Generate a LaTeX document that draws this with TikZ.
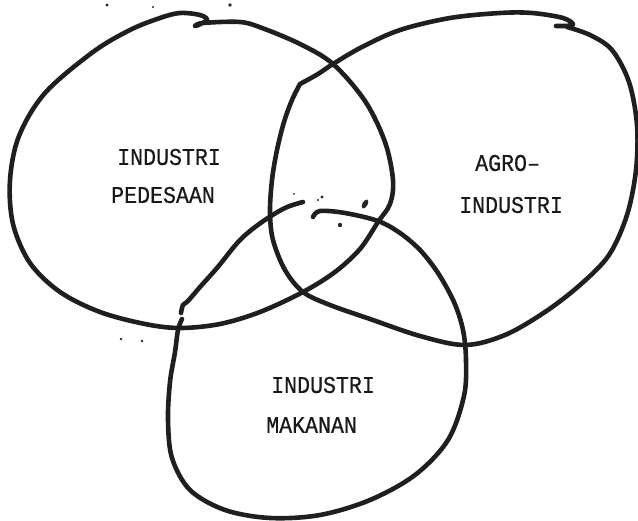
\documentclass[tikz,border=0pt]{standalone}
\usepackage{fontspec}
\newfontfamily\typewriter[FakeStretch=0.9,FakeBold=0.5]{Liberation Mono}
\begin{document}
\begin{tikzpicture}[x=1pt,y=-1pt,
  loopline/.style={line width=4.6pt,draw=black!88,line cap=round,line join=round},
  label/.style={font=\typewriter\fontsize{24}{26}\selectfont,text=black!90,inner sep=0pt,anchor=west},
  speck/.style={fill=black!85,draw=none}]
\useasboundingbox (0,0) rectangle (638,521);

% left loop: INDUSTRI PEDESAAN
\draw[loopline] plot[smooth,tension=0.55] coordinates {
  (195,26) (203,23) (240,22) (262,28) (300,44) (333,64) (365,101) (385,142)
  (393,180) (390,204) (378,222) (360,249) (335,272) (303,292) (260,312)
  (220,324) (180,328) (145,324) (100,312) (60,292) (30,263) (13,224) (10,180)
  (19,136) (45,93) (93,52) (130,30) (160,18) (180,13) (200,15) (207,20) (196,26)};

% right loop: AGRO-INDUSTRI
\draw[loopline] plot[smooth,tension=0.55] coordinates {
  (567,27) (590,35) (612,50) (629,82) (637,125) (636,170) (627,215) (609,255)
  (580,285) (545,312) (505,335) (465,345) (420,336) (370,319) (330,305)
  (303,292) (285,270) (273,240) (270,212) (272,180) (277,150) (284,122) (292,100) (300,84)}
  plot[smooth,tension=0.55] coordinates {
  (300,84) (318,74) (333,64) (362,47) (400,30) (450,18) (500,13) (532,13)
  (563,18) (573,25) (556,26)};

% bottom loop: INDUSTRI MAKANAN
\draw[loopline] plot[smooth,tension=0.55] coordinates {
  (303,202) (285,208) (262,222) (240,240) (217,268) (200,287) (188,301)
  (183,305) (181,313)};
\draw[loopline] plot[smooth,tension=0.55] coordinates {
  (182,319) (178,330) (175,352) (170,382) (168,420) (172,458) (190,490)
  (225,510) (270,518) (320,515) (370,500) (415,475) (448,440) (464,396)
  (466,360) (463,330) (454,302) (438,273) (420,250) (400,233) (378,221)
  (345,213) (320,211) (313,217)};

% ink specks
\fill[speck] (107,5) circle (1.6);
\fill[speck] (153,7) circle (1.2);
\fill[speck] (230,5) circle (1.8);
\fill[speck, rotate around={-30:(365,204)}] (365,204) ellipse (2.6 and 5);
\fill[speck] (340,225) circle (2.2);
\fill[speck] (322,197) circle (1.6);
\fill[speck] (318,200) circle (1.2);
\fill[speck] (294,194) circle (1);
\fill[speck] (121,339) circle (1.3);
\fill[speck] (142,341) circle (1.4);

% labels
\node[label] (ip1) at (117,157) {INDUSTRI};
\node[label] (ip2) at (111,195) {PEDESAAN};
\node[label] (ai1) at (475,163) {AGRO–};
\node[label] (ai2) at (459,205) {INDUSTRI};
\node[label] (im1) at (271,385) {INDUSTRI};
\node[label] (im2) at (266,425) {MAKANAN};
\end{tikzpicture}
\end{document}
